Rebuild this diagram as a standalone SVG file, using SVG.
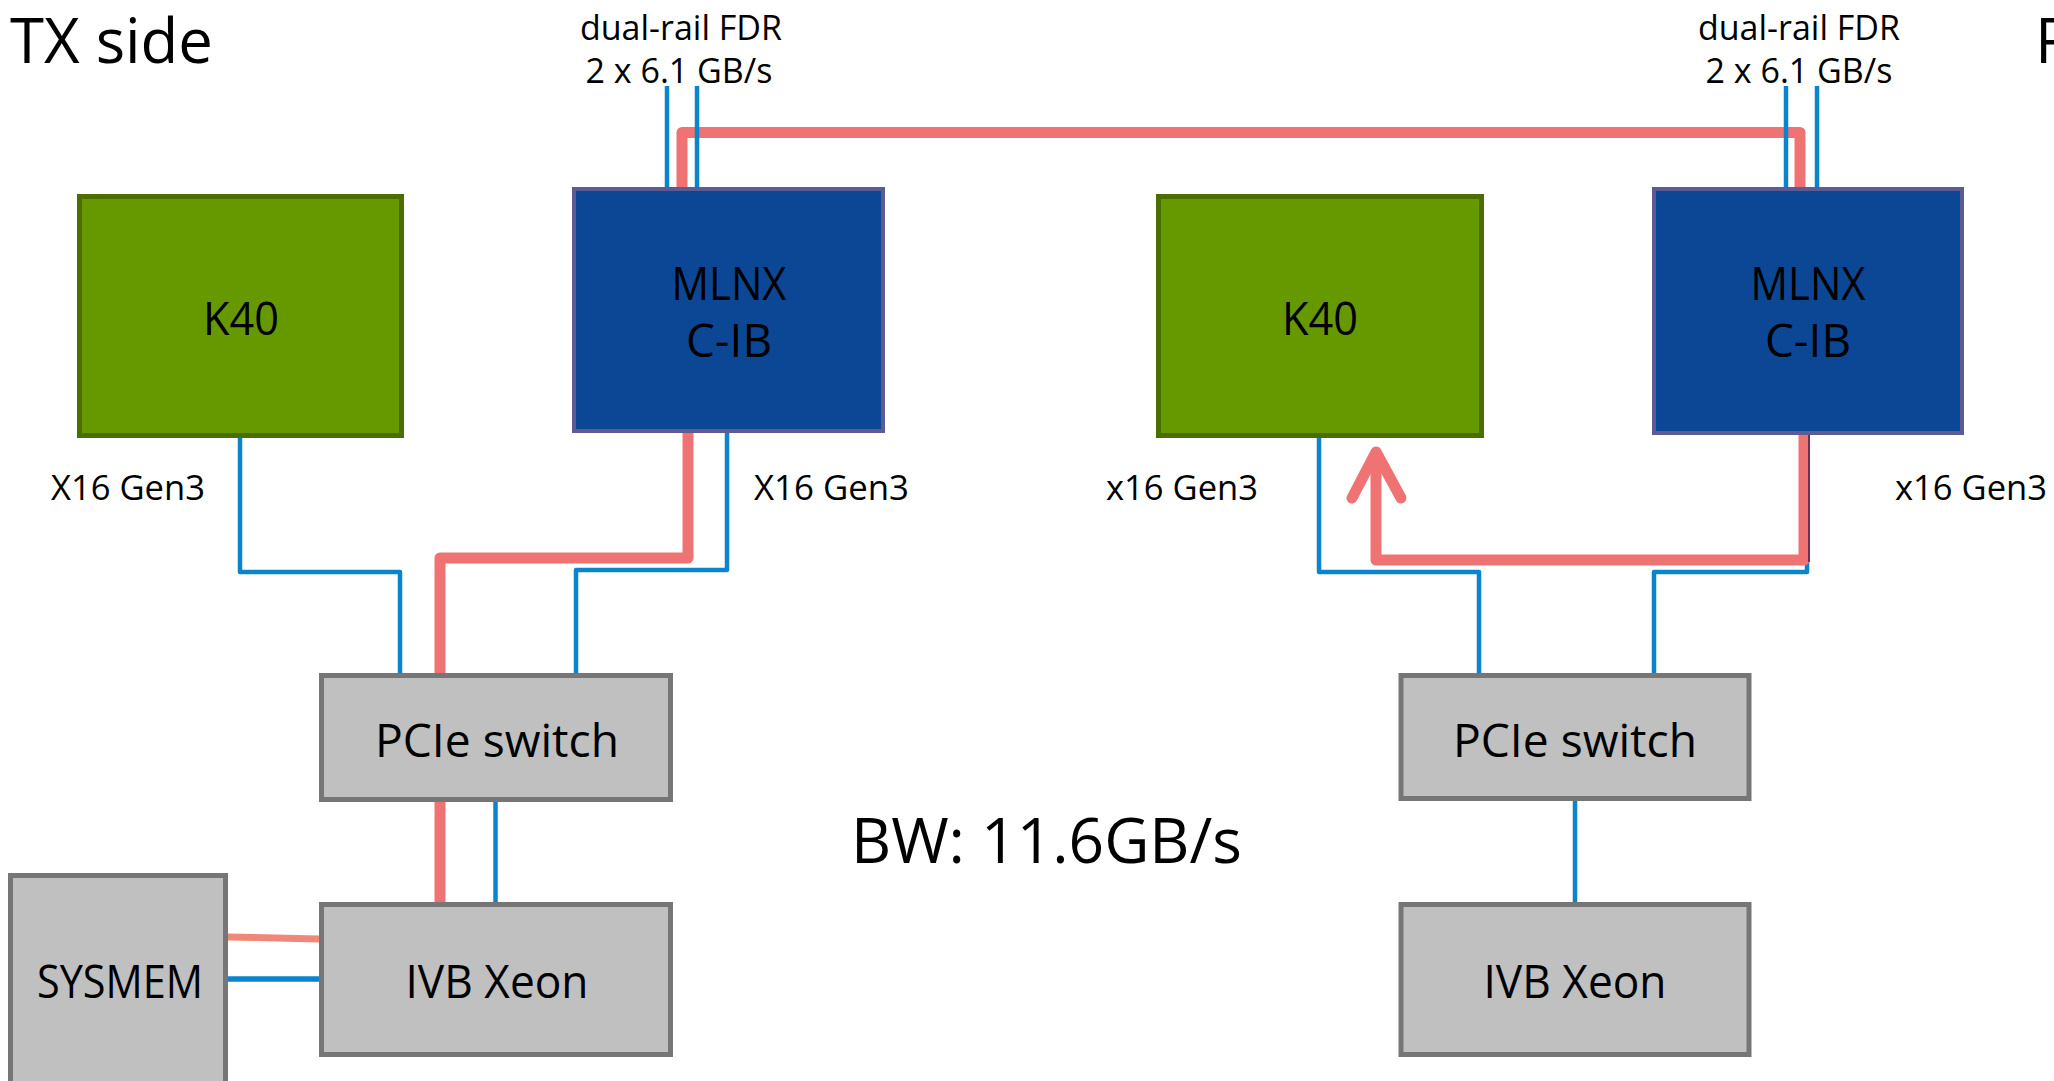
<svg xmlns="http://www.w3.org/2000/svg" width="2054" height="1081" viewBox="0 0 2054 1081">
<style>
text{font-family:"Open Sans","DejaVu Sans",sans-serif;fill:#000}
.gpu{fill:#669900;stroke:#4b6e00;stroke-width:5}
.nic{fill:#0c4795;stroke:#5c5b93;stroke-width:4}
.gray{fill:#c0c0c0;stroke:#767676;stroke-width:5}
.b{fill:none;stroke:#0a84cc;stroke-width:4.5;stroke-linejoin:round}
.r{fill:none;stroke:#ef7373;stroke-width:11;stroke-linejoin:round;stroke-linecap:butt}
.lbl{font-size:46px;text-anchor:middle}
.sm{font-size:34px}
</style>
<rect width="2054" height="1081" fill="#fff"/>
<text x="10" y="63" font-size="62" textLength="203" lengthAdjust="spacingAndGlyphs">TX side</text>
<text x="2035" y="63" font-size="62">R</text>
<g id="fdr-tx-label"><text class="sm" x="681" y="40" text-anchor="middle">dual-rail FDR</text><text class="sm" x="679" y="83" text-anchor="middle">2 x 6.1 GB/s</text></g>
<g id="fdr-rx-label"><text class="sm" x="1799" y="40" text-anchor="middle">dual-rail FDR</text><text class="sm" x="1799" y="83" text-anchor="middle">2 x 6.1 GB/s</text></g>
<g id="connectors">
<path class="r" d="M682 188V132.5H1800V188"/>
<path class="b" d="M667 86V188M697 86V188M1786 86V188M1817 86V188"/>
<path class="b" d="M240 438V572H400V673"/>
<path class="b" d="M727 433V570H576V673"/>
<path class="r" d="M688 433V558H440V673"/>
<path class="r" d="M440 802V902"/>
<path class="b" d="M495.5 802V902"/>
<path d="M228 937L319 939" stroke="#f08878" stroke-width="7"/>
<path d="M228 979H319" stroke="#0a84cc" stroke-width="5.5"/>
<path class="b" d="M1319 438V572H1479V673"/>
<path class="b" d="M1807 435V572H1654V673"/>
<path class="r" d="M1804 435V560H1376V452"/>
<path d="M1352 498L1376 452L1401 498" fill="none" stroke="#ef7373" stroke-width="11" stroke-linecap="round" stroke-linejoin="round"/>
<path d="M1809 435V562" stroke="#70304f" stroke-width="2"/>
<path class="b" d="M1575 801V902"/>
</g>
<g id="tx-k40"><rect class="gpu" x="79.5" y="196.5" width="322" height="239"/><text class="lbl" x="241" y="335" textLength="76" lengthAdjust="spacingAndGlyphs">K40</text></g>
<g id="tx-mlnx"><rect class="nic" x="574" y="189" width="309" height="242"/><text class="lbl" x="729" y="300" textLength="115" lengthAdjust="spacingAndGlyphs">MLNX</text><text class="lbl" x="729" y="357" textLength="86" lengthAdjust="spacingAndGlyphs">C-IB</text></g>
<text class="sm" x="51" y="500" textLength="154" lengthAdjust="spacingAndGlyphs">X16 Gen3</text>
<text class="sm" x="754" y="500" textLength="155" lengthAdjust="spacingAndGlyphs">X16 Gen3</text>
<g id="tx-pcie"><rect class="gray" x="321.5" y="675.5" width="349" height="124"/><text class="lbl" x="497" y="757" textLength="244" lengthAdjust="spacingAndGlyphs">PCIe switch</text></g>
<g id="tx-ivb"><rect class="gray" x="321.5" y="904.5" width="349" height="150"/><text class="lbl" x="497" y="998" textLength="183" lengthAdjust="spacingAndGlyphs">IVB Xeon</text></g>
<g id="sysmem"><rect class="gray" x="10.5" y="875.5" width="215" height="215"/><text class="lbl" x="120" y="998" textLength="166" lengthAdjust="spacingAndGlyphs">SYSMEM</text></g>
<text x="851" y="863" font-size="62" textLength="391" lengthAdjust="spacingAndGlyphs">BW: 11.6GB/s</text>
<g id="rx-k40"><rect class="gpu" x="1158.5" y="196.5" width="323" height="239"/><text class="lbl" x="1320" y="335" textLength="76" lengthAdjust="spacingAndGlyphs">K40</text></g>
<g id="rx-mlnx"><rect class="nic" x="1654" y="189" width="308" height="244"/><text class="lbl" x="1808" y="300" textLength="115" lengthAdjust="spacingAndGlyphs">MLNX</text><text class="lbl" x="1808" y="357" textLength="86" lengthAdjust="spacingAndGlyphs">C-IB</text></g>
<text class="sm" x="1106" y="500" textLength="152" lengthAdjust="spacingAndGlyphs">x16 Gen3</text>
<text class="sm" x="1895" y="500" textLength="152" lengthAdjust="spacingAndGlyphs">x16 Gen3</text>
<g id="rx-pcie"><rect class="gray" x="1401" y="675.5" width="348" height="123"/><text class="lbl" x="1575" y="757" textLength="244" lengthAdjust="spacingAndGlyphs">PCIe switch</text></g>
<g id="rx-ivb"><rect class="gray" x="1401" y="904.5" width="348" height="150"/><text class="lbl" x="1575" y="998" textLength="183" lengthAdjust="spacingAndGlyphs">IVB Xeon</text></g>
</svg>
